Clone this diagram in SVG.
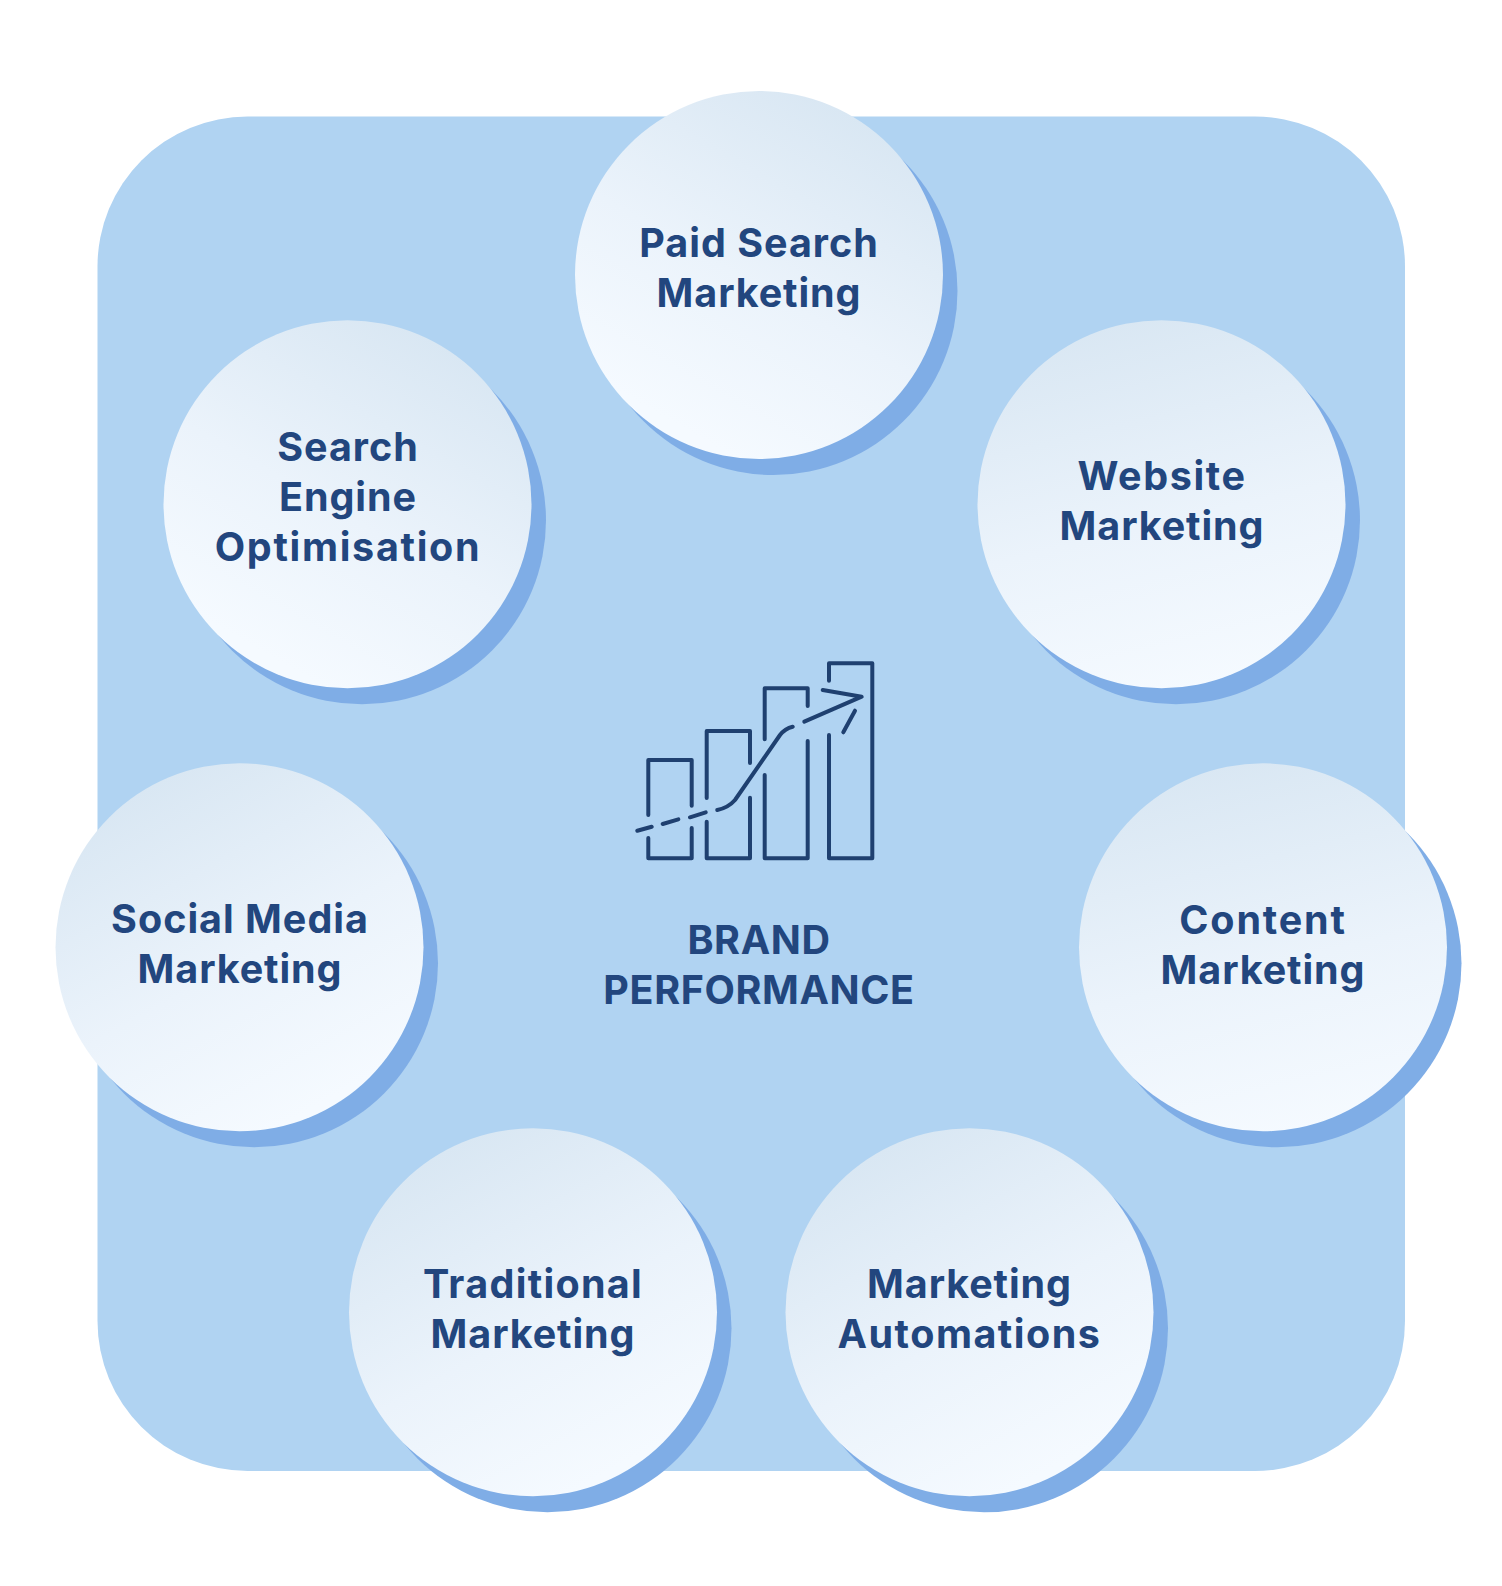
<svg xmlns="http://www.w3.org/2000/svg" width="1502" height="1586" viewBox="0 0 1502 1586">
<defs>
<linearGradient id="gt" x1="0.78" y1="0.08" x2="0.3" y2="0.92"><stop offset="0" stop-color="#d9e7f3"/><stop offset="0.55" stop-color="#ebf3fb"/><stop offset="1" stop-color="#f5faff"/></linearGradient>
<linearGradient id="gc" x1="0.38" y1="0" x2="0.62" y2="1"><stop offset="0" stop-color="#d9e7f3"/><stop offset="0.55" stop-color="#ebf3fb"/><stop offset="1" stop-color="#f5faff"/></linearGradient>
<linearGradient id="gl" x1="0.15" y1="0.12" x2="0.62" y2="0.98"><stop offset="0" stop-color="#d9e7f3"/><stop offset="0.55" stop-color="#ebf3fb"/><stop offset="1" stop-color="#f5faff"/></linearGradient>
</defs>
<style>
text{font-family:"Inter","Noto Sans","Liberation Sans",sans-serif;font-weight:650;font-size:39.500px;fill:#22467e;text-anchor:middle}
.sh{fill:#7fade6}
.ic{fill:none;stroke:#1f4070;stroke-width:4;stroke-linecap:round;stroke-linejoin:round}
</style>
<rect width="1502" height="1586" fill="#fff"/>
<rect id="panel" x="97.500" y="116.500" width="1307.500" height="1354.500" rx="150" fill="#b0d3f2"/>
<g id="n1"><circle class="sh" cx="773.500" cy="291" r="184"/><circle cx="759" cy="275" r="184" fill="url(#gt)"/><text x="759" y="257" letter-spacing="1">Paid Search</text><text x="759" y="306.500" letter-spacing="0.900">Marketing</text></g>
<g id="n2"><circle class="sh" cx="362" cy="520.300" r="184"/><circle cx="347.500" cy="504.300" r="184" fill="url(#gt)"/><text x="348" y="461.300" letter-spacing="1">Search</text><text x="348" y="510.900" letter-spacing="0.900">Engine</text><text x="348" y="560.500" letter-spacing="1.700">Optimisation</text></g>
<g id="n3"><circle class="sh" cx="1176" cy="520.300" r="184"/><circle cx="1161.500" cy="504.300" r="184" fill="url(#gc)"/><text x="1162" y="489.700" letter-spacing="1.600">Website</text><text x="1162" y="539.500" letter-spacing="0.900">Marketing</text></g>
<g id="n4"><circle class="sh" cx="254" cy="963.300" r="184"/><circle cx="239.500" cy="947.300" r="184" fill="url(#gl)"/><text x="240" y="932.800" letter-spacing="1">Social Media</text><text x="240" y="982.600" letter-spacing="0.900">Marketing</text></g>
<g id="n5"><circle class="sh" cx="1277.500" cy="963.300" r="184"/><circle cx="1263" cy="947.300" r="184" fill="url(#gc)"/><text x="1263" y="933.800" letter-spacing="1.800">Content</text><text x="1263" y="983.600" letter-spacing="0.900">Marketing</text></g>
<g id="n6"><circle class="sh" cx="547.500" cy="1328.300" r="184"/><circle cx="533" cy="1312.300" r="184" fill="url(#gl)"/><text x="533" y="1298" letter-spacing="1.300">Traditional</text><text x="533" y="1347.600" letter-spacing="0.900">Marketing</text></g>
<g id="n7"><circle class="sh" cx="984" cy="1328.300" r="184"/><circle cx="969.500" cy="1312.300" r="184" fill="url(#gl)"/><text x="969.500" y="1298" letter-spacing="0.900">Marketing</text><text x="969.500" y="1347.600" letter-spacing="1.500">Automations</text></g>
<g id="center">
<path class="ic" d="M648.300 815V760H691.700V805.700M691.700 828V858.300H648.300V838"/>
<path class="ic" d="M706.700 798V731H750V763M750 797.700V858.300H706.700V821.700"/>
<path class="ic" d="M764.700 739.300V688.300H807.700V706M807.700 741V858.300H764.700V775"/>
<path class="ic" d="M829 680.700V663.300H872.300V858.300H829V735"/>
<path class="ic" d="M637.300 830.700L651.700 826.700M662.700 824L678.300 819.300M690 817.300L705.700 812.300M717.300 810Q728.300 807.700 735 800L780 735Q785 728.500 792.700 726.700"/>
<path class="ic" d="M804.300 721.700L861.700 696.700L822.700 690M855 710.700L843.300 732.300"/>
<text x="759" y="954" letter-spacing="0.600">BRAND</text><text x="759" y="1003.600" letter-spacing="0.600">PERFORMANCE</text>
</g>
</svg>
